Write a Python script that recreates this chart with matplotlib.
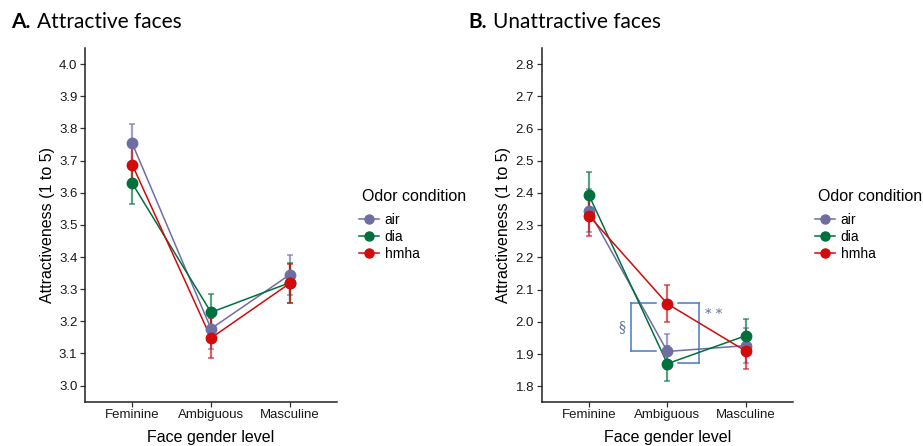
import matplotlib
matplotlib.use("Agg")
import matplotlib.pyplot as plt
from matplotlib.lines import Line2D

plt.rcParams["font.family"] = ["Liberation Sans", "DejaVu Sans"]

LEVELS = ["Feminine", "Ambiguous", "Masculine"]
CONDITIONS = ["air", "dia", "hmha"]
COLORS = {"air": "#6E6EA3", "dia": "#00703C", "hmha": "#D10A0A"}

# panel A: attractive faces (mean, standard error)
attr_mean = {
    "air": [3.753, 3.177, 3.345],
    "dia": [3.629, 3.228, 3.320],
    "hmha": [3.687, 3.148, 3.318],
}
attr_err = {
    "air": [0.062, 0.062, 0.062],
    "dia": [0.063, 0.057, 0.062],
    "hmha": [0.058, 0.062, 0.060],
}

# panel B: unattractive faces
unattr_mean = {
    "air": [2.345, 1.908, 1.926],
    "dia": [2.394, 1.870, 1.957],
    "hmha": [2.330, 2.056, 1.909],
}
unattr_err = {
    "air": [0.067, 0.055, 0.055],
    "dia": [0.071, 0.054, 0.052],
    "hmha": [0.065, 0.058, 0.054],
}

attr_ticks = [3.0, 3.1, 3.2, 3.3, 3.4, 3.5, 3.6, 3.7, 3.8, 3.9, 4.0]
unattr_ticks = [1.8, 1.9, 2.0, 2.1, 2.2, 2.3, 2.4, 2.5, 2.6, 2.7, 2.8]

# bracket heights for the significance marks in panel B
bracket_top = 2.057
bracket_left_bottom = 1.908
bracket_right_bottom = 1.871


def draw_panel(ax, means, errs, ticks, ylim):
    x = list(range(len(LEVELS)))
    for cond in CONDITIONS:
        c = COLORS[cond]
        ax.errorbar(x, means[cond], yerr=errs[cond], fmt="none",
                    ecolor=c, alpha=0.65, elinewidth=1.6, capsize=2,
                    capthick=1.2, zorder=2)
        ax.plot(x, means[cond], color=c, lw=1.1, zorder=3)
        ax.plot(x, means[cond], "o", color=c, ms=7.5, zorder=4)
    ax.set_xlim(-0.6, 2.6)
    ax.set_ylim(*ylim)
    ax.set_xticks(x)
    ax.set_xticklabels(LEVELS)
    ax.set_yticks(ticks)
    ax.set_yticklabels([f"{t:.1f}" for t in ticks])
    for side in ("top", "right"):
        ax.spines[side].set_visible(False)
    for side in ("left", "bottom"):
        ax.spines[side].set_color("#222222")
        ax.spines[side].set_linewidth(1.1)
    ax.tick_params(direction="out", length=3.5, width=0.9, color="#333333",
                   labelsize=9.5, labelcolor="#1a1a1a", pad=2)
    ax.set_xlabel("Face gender level", fontsize=11.5, labelpad=6)
    ax.set_ylabel("Attractiveness (1 to 5)", fontsize=11.5, labelpad=3)

    # legend title drawn separately so the gap to the entries matches
    ax.text(1.098, 0.579, "Odor condition", transform=ax.transAxes,
            fontsize=11.5, ha="left", va="center", clip_on=False)
    handles = [Line2D([0], [0], color=COLORS[c], lw=1.1, marker="o", ms=6.5)
               for c in CONDITIONS]
    ax.legend(handles, CONDITIONS, loc="upper left",
              bbox_to_anchor=(1.088, 0.533), frameon=False, fontsize=10,
              handlelength=1.4, handletextpad=0.45, labelspacing=0.2,
              borderpad=0, borderaxespad=0)


fig = plt.figure(figsize=(9.23, 4.46), dpi=100)
ax_a = fig.add_axes([0.0921, 0.0993, 0.2730, 0.7931])
ax_b = fig.add_axes([0.5869, 0.0993, 0.2722, 0.7931])

draw_panel(ax_a, attr_mean, attr_err, attr_ticks, (2.95, 4.05))
draw_panel(ax_b, unattr_mean, unattr_err, unattr_ticks, (1.752, 2.85))

# significance brackets around the Ambiguous level in panel B
bc = "#4A78C8"
ax_b.plot([0.54, 0.86], [bracket_top] * 2, color=bc, lw=1.1, zorder=1)
ax_b.plot([0.54, 0.54], [bracket_top, bracket_left_bottom], color=bc, lw=1.1, zorder=1)
ax_b.plot([0.54, 0.86], [bracket_left_bottom] * 2, color=bc, lw=1.1, zorder=1)
ax_b.plot([1.13, 1.40], [bracket_top] * 2, color=bc, lw=1.1, zorder=1)
ax_b.plot([1.40, 1.40], [bracket_top, bracket_right_bottom], color=bc, lw=1.1, zorder=1)
ax_b.plot([1.13, 1.40], [bracket_right_bottom] * 2, color=bc, lw=1.1, zorder=1)
ax_b.text(0.42, 1.985, "§", color="#5C6A8C", fontsize=10,
          ha="center", va="center", family=["DejaVu Serif"])
ax_b.text(1.59, 2.024, "* *", color="#5C6A8C", fontsize=9.5,
          ha="center", va="center", family=["DejaVu Serif"])

title_font = ["Lato", "DejaVu Sans"]
fig.text(11 / 923, 1 - 22 / 446, "A.", fontsize=15, fontweight="bold",
         family=title_font, va="center", ha="left")
fig.text(37 / 923, 1 - 22 / 446, "Attractive faces", fontsize=15,
         family=title_font, va="center", ha="left")
fig.text(468 / 923, 1 - 22 / 446, "B.", fontsize=15, fontweight="bold",
         family=title_font, va="center", ha="left")
fig.text(493 / 923, 1 - 22 / 446, "Unattractive faces", fontsize=15,
         family=title_font, va="center", ha="left")

fig.savefig("out.png", dpi=100)
plt.close(fig)
